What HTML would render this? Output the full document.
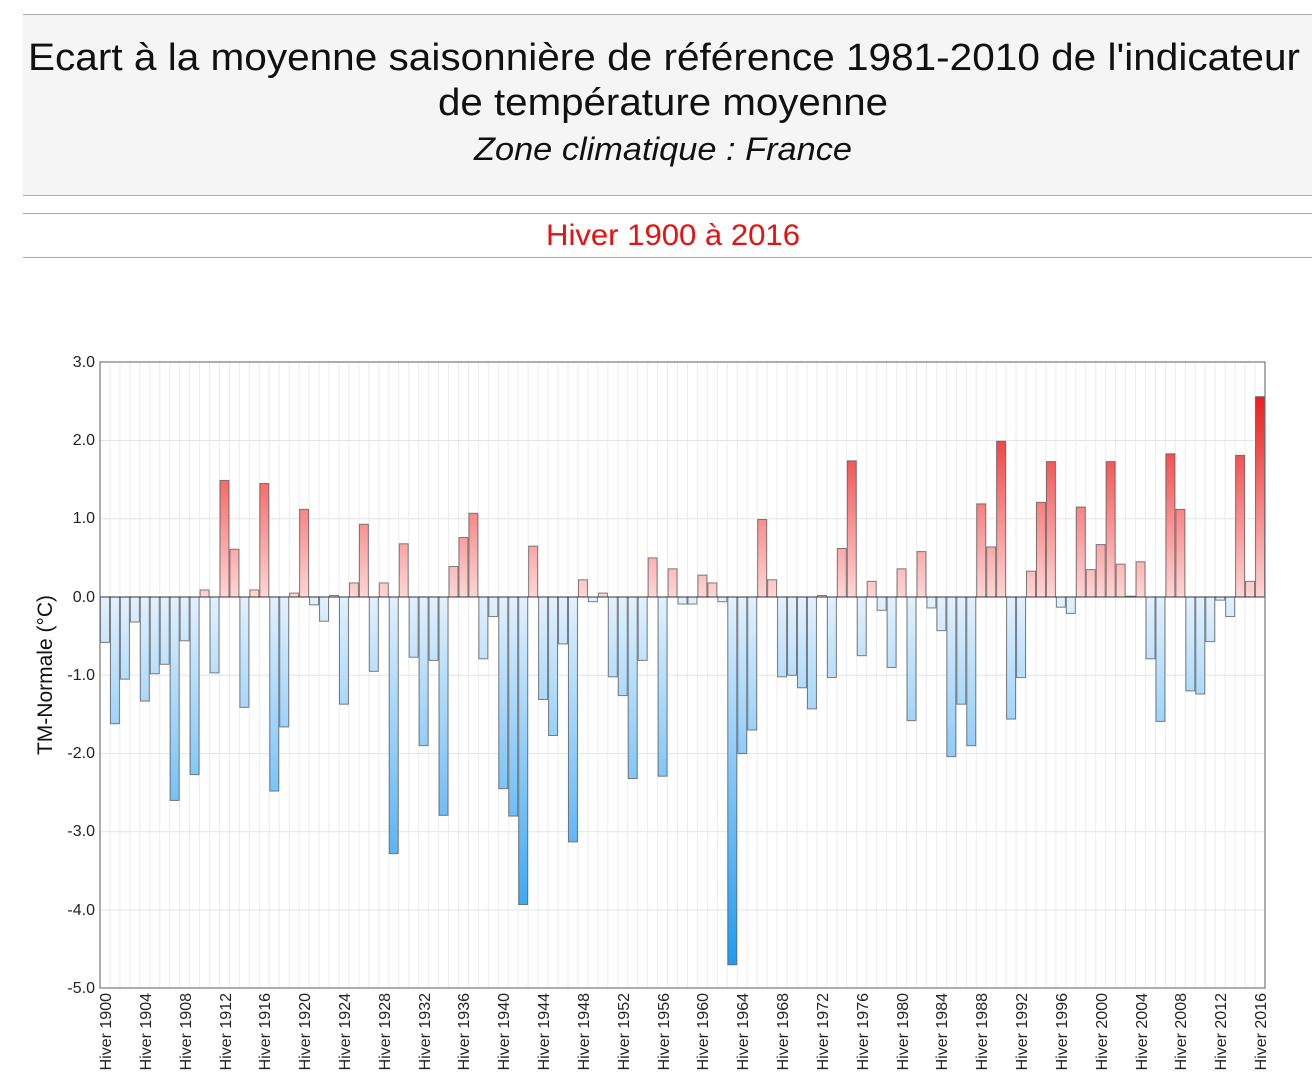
<!DOCTYPE html>
<html><head><meta charset="utf-8"><style>
html,body{margin:0;padding:0;background:#fff;width:1312px;height:1090px;overflow:hidden}
svg{display:block;font-family:"Liberation Sans",Arial,sans-serif}
</style></head><body>
<svg width="1312" height="1090" viewBox="0 0 1312 1090" xmlns="http://www.w3.org/2000/svg">
<defs>
<linearGradient id="gr" gradientUnits="userSpaceOnUse" x1="0" y1="597" x2="0" y2="396">
<stop offset="0" stop-color="#ffd6d6"/><stop offset="1" stop-color="#ee1c1c"/></linearGradient>
<linearGradient id="gb" gradientUnits="userSpaceOnUse" x1="0" y1="597" x2="0" y2="965">
<stop offset="0" stop-color="#e2f1fe"/><stop offset="1" stop-color="#1e9bf2"/></linearGradient>
</defs>
<rect x="23" y="14" width="1289" height="181" fill="#f5f5f5"/>
<line x1="23" y1="14.5" x2="1312" y2="14.5" stroke="#aaa"/>
<line x1="23" y1="195.5" x2="1312" y2="195.5" stroke="#aaa"/>
<line x1="23" y1="213.5" x2="1312" y2="213.5" stroke="#aaa"/>
<line x1="23" y1="257.5" x2="1312" y2="257.5" stroke="#aaa"/>
<text x="664" y="70" font-size="38" text-anchor="middle" textLength="1272" lengthAdjust="spacingAndGlyphs" fill="#111">Ecart à la moyenne saisonnière de référence 1981-2010 de l'indicateur</text>
<text x="663" y="115" font-size="38" text-anchor="middle" textLength="450" lengthAdjust="spacingAndGlyphs" fill="#111">de température moyenne</text>
<text x="663" y="160" font-size="32" font-style="italic" text-anchor="middle" textLength="378" lengthAdjust="spacingAndGlyphs" fill="#111">Zone climatique : France</text>
<text x="673" y="245" font-size="30" text-anchor="middle" textLength="254" lengthAdjust="spacingAndGlyphs" fill="#e81010">Hiver 1900 à 2016</text>
<g id="grid"></g>
<g id="bars"></g>
<line x1="100" y1="597" x2="1265" y2="597" stroke="#333" stroke-width="1"/>
<rect x="100" y="362" width="1165" height="626" fill="none" stroke="#777" stroke-width="1.2"/>
<g font-size="16" fill="#222" text-anchor="end">
<text x="95" y="367">3.0</text><text x="95" y="445">2.0</text><text x="95" y="523">1.0</text><text x="95" y="602">0.0</text>
<text x="95" y="680">-1.0</text><text x="95" y="758">-2.0</text><text x="95" y="836">-3.0</text><text x="95" y="915">-4.0</text><text x="95" y="993">-5.0</text>
</g>
<text transform="translate(52,675) rotate(-90)" font-size="21" text-anchor="middle" fill="#111">TM-Normale (°C)</text>
<g font-size="16" fill="#222" text-anchor="end">
<text transform="translate(111,993) rotate(-90)">Hiver 1900</text>
<text transform="translate(151,993) rotate(-90)">Hiver 1904</text>
<text transform="translate(191,993) rotate(-90)">Hiver 1908</text>
<text transform="translate(231,993) rotate(-90)">Hiver 1912</text>
<text transform="translate(270,993) rotate(-90)">Hiver 1916</text>
<text transform="translate(310,993) rotate(-90)">Hiver 1920</text>
<text transform="translate(350,993) rotate(-90)">Hiver 1924</text>
<text transform="translate(390,993) rotate(-90)">Hiver 1928</text>
<text transform="translate(430,993) rotate(-90)">Hiver 1932</text>
<text transform="translate(469,993) rotate(-90)">Hiver 1936</text>
<text transform="translate(509,993) rotate(-90)">Hiver 1940</text>
<text transform="translate(549,993) rotate(-90)">Hiver 1944</text>
<text transform="translate(589,993) rotate(-90)">Hiver 1948</text>
<text transform="translate(629,993) rotate(-90)">Hiver 1952</text>
<text transform="translate(669,993) rotate(-90)">Hiver 1956</text>
<text transform="translate(708,993) rotate(-90)">Hiver 1960</text>
<text transform="translate(748,993) rotate(-90)">Hiver 1964</text>
<text transform="translate(788,993) rotate(-90)">Hiver 1968</text>
<text transform="translate(828,993) rotate(-90)">Hiver 1972</text>
<text transform="translate(868,993) rotate(-90)">Hiver 1976</text>
<text transform="translate(908,993) rotate(-90)">Hiver 1980</text>
<text transform="translate(947,993) rotate(-90)">Hiver 1984</text>
<text transform="translate(987,993) rotate(-90)">Hiver 1988</text>
<text transform="translate(1027,993) rotate(-90)">Hiver 1992</text>
<text transform="translate(1067,993) rotate(-90)">Hiver 1996</text>
<text transform="translate(1107,993) rotate(-90)">Hiver 2000</text>
<text transform="translate(1147,993) rotate(-90)">Hiver 2004</text>
<text transform="translate(1186,993) rotate(-90)">Hiver 2008</text>
<text transform="translate(1226,993) rotate(-90)">Hiver 2012</text>
<text transform="translate(1266,993) rotate(-90)">Hiver 2016</text>
</g>
</svg>
<script>
(function(){
var v=[-0.58,-1.62,-1.05,-0.32,-1.33,-0.98,-0.86,-2.6,-0.56,-2.27,0.09,-0.97,1.49,0.61,-1.41,0.09,1.45,-2.48,-1.66,0.05,1.12,-0.1,-0.31,0.02,-1.37,0.18,0.93,-0.95,0.18,-3.28,0.68,-0.77,-1.9,-0.81,-2.79,0.39,0.76,1.07,-0.79,-0.25,-2.45,-2.8,-3.93,0.65,-1.31,-1.77,-0.6,-3.13,0.22,-0.06,0.05,-1.02,-1.26,-2.32,-0.81,0.5,-2.29,0.36,-0.09,-0.09,0.28,0.18,-0.06,-4.7,-2.0,-1.7,0.99,0.22,-1.02,-1.0,-1.16,-1.43,0.02,-1.03,0.62,1.74,-0.75,0.2,-0.17,-0.9,0.36,-1.58,0.58,-0.14,-0.43,-2.04,-1.37,-1.9,1.19,0.64,1.99,-1.56,-1.03,0.33,1.21,1.73,-0.13,-0.21,1.15,0.35,0.67,1.73,0.42,0.01,0.45,-0.79,-1.59,1.83,1.12,-1.2,-1.24,-0.57,-0.04,-0.25,1.81,0.2,2.56];
var NS="http://www.w3.org/2000/svg",g=document.getElementById('grid'),b=document.getElementById('bars');
var x0=100,w=1165/117,y0=597,s=78.25;
function el(p,t,a){var e=document.createElementNS(NS,t);for(var k in a)e.setAttribute(k,a[k]);p.appendChild(e);}
for(var i=1;i<117;i++)el(g,'line',{x1:x0+i*w,x2:x0+i*w,y1:362,y2:988,stroke:'#ececec','stroke-width':1});
for(var j=-4;j<=2;j++)el(g,'line',{x1:100,x2:1265,y1:y0-j*s,y2:y0-j*s,stroke:'#e4e4e4','stroke-width':1});
for(var i=0;i<117;i++){var h=v[i]*s,y=h>0?y0-h:y0;el(b,'rect',{x:x0+i*w+0.5,y:y,width:w-1,height:Math.abs(h),fill:h>0?'url(#gr)':'url(#gb)',stroke:'#555','stroke-opacity':0.75,'stroke-width':1});}
})();
</script>
</body></html>
